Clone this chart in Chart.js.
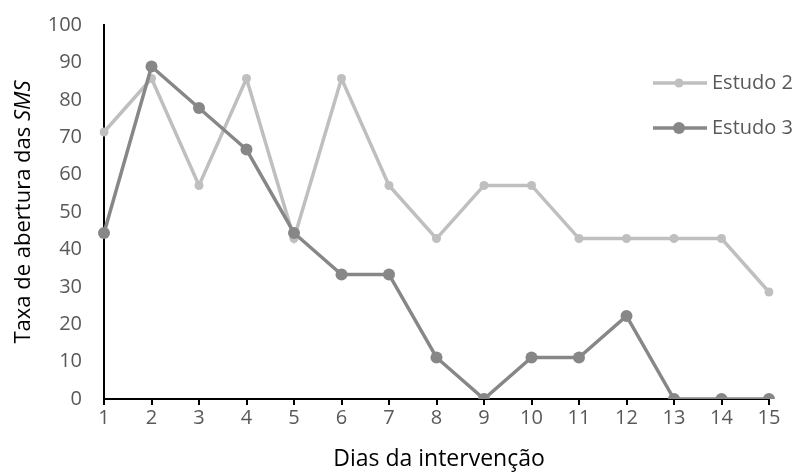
<!DOCTYPE html>
<html>
<head>
<meta charset="utf-8">
<script src="https://cdn.jsdelivr.net/npm/chart.js@4/dist/chart.umd.min.js"></script>
<style>
  html, body { margin: 0; padding: 0; background: #fff; }
  #wrap { width: 797px; height: 475px; }
</style>
</head>
<body>
<div id="wrap"><canvas id="chart"></canvas></div>
<script>
// data
let dias     = ['1','2','3','4','5','6','7','8','9','10','11','12','13','14','15'];
let estudo2  = [71.4, 85.7, 57.1, 85.7, 42.9, 85.7, 57.1, 42.9, 57.1, 57.1, 42.9, 42.9, 42.9, 42.9, 28.6];
let estudo3  = [44.4, 88.9, 77.8, 66.7, 44.4, 33.3, 33.3, 11.1, 0, 11.1, 11.1, 22.2, 0, 0, 0];
let yTicks   = [0, 10, 20, 30, 40, 50, 60, 70, 80, 90, 100];

let colors = {
    light : '#bfbfbf',
    dark  : '#878787',
    text  : '#595959'
};
let fontFamily = '"Open Sans", "Liberation Sans", sans-serif';

// titles and legend drawn by hand (mixed italic, legend inside plot)
let extras = {
    id : 'extras',
    afterDraw : ( chart ) => {
        let ctx  = chart.ctx;
        ctx.save();

        // x title
        ctx.fillStyle = '#000';
        ctx.font = '23px ' + fontFamily;
        ctx.textAlign = 'center';
        ctx.textBaseline = 'middle';
        ctx.fillText( 'Dias da intervenção', 439, 459 );

        // y title, rotated, with italic SMS
        let part1 = 'Taxa de abertura das ';
        let part2 = 'SMS';
        ctx.font = '22px ' + fontFamily;
        let w1 = ctx.measureText( part1 ).width;
        ctx.font = 'italic 22px ' + fontFamily;
        let w2 = ctx.measureText( part2 ).width;
        ctx.translate( 24, 212 );
        ctx.rotate( -Math.PI / 2 );
        ctx.textAlign = 'left';
        let start = -( w1 + w2 ) / 2;
        ctx.font = '22px ' + fontFamily;
        ctx.fillText( part1, start, 0 );
        ctx.font = 'italic 22px ' + fontFamily;
        ctx.fillText( part2, start + w1, 0 );
        ctx.setTransform( 1, 0, 0, 1, 0, 0 );

        // legend
        let items = [
            { label : 'Estudo 2', ds : chart.data.datasets[1], y : 83 },
            { label : 'Estudo 3', ds : chart.data.datasets[0], y : 128 }
        ];
        items.forEach( ( it ) => {
            ctx.strokeStyle = it.ds.borderColor;
            ctx.lineWidth = it.ds.borderWidth;
            ctx.beginPath();
            ctx.moveTo( 653, it.y );
            ctx.lineTo( 707, it.y );
            ctx.stroke();
            ctx.fillStyle = it.ds.pointBackgroundColor;
            ctx.beginPath();
            ctx.arc( 679, it.y, it.ds.pointRadius, 0, Math.PI * 2 );
            ctx.fill();
            ctx.fillStyle = colors.text;
            ctx.font = '20px ' + fontFamily;
            ctx.textAlign = 'left';
            ctx.textBaseline = 'middle';
            ctx.fillText( it.label, 712, it.y );
        } );
        ctx.restore();
    }
};

let ctx = document.getElementById( 'chart' ).getContext( '2d' );
let chart = new Chart( ctx, {
    type : 'line',
    data : {
        labels : dias,
        datasets : [
            {
                label : 'Estudo 3',
                data : estudo3,
                borderColor : colors.dark,
                backgroundColor : colors.dark,
                pointBackgroundColor : colors.dark,
                pointBorderWidth : 0,
                pointRadius : 6,
                borderWidth : 3.5,
                tension : 0,
                order : 0
            },
            {
                label : 'Estudo 2',
                data : estudo2,
                borderColor : colors.light,
                backgroundColor : colors.light,
                pointBackgroundColor : colors.light,
                pointBorderWidth : 0,
                pointRadius : 4.5,
                borderWidth : 3.5,
                tension : 0,
                order : 1
            }
        ]
    },
    options : {
        responsive : true,
        maintainAspectRatio : false,
        animation : false,
        layout : {
            padding : { top : 25, right : 28, left : 0, bottom : 0 }
        },
        plugins : {
            legend : { display : false },
            tooltip : { enabled : false }
        },
        scales : {
            x : {
                type : 'category',
                offset : false,
                grid : {
                    display : true,
                    drawOnChartArea : false,
                    drawTicks : true,
                    tickLength : 6,
                    color : '#000',
                    lineWidth : 2
                },
                border : { display : true, color : '#000', width : 2 },
                ticks : {
                    color : colors.text,
                    font : { family : fontFamily, size : 20 },
                    padding : 1,
                    maxRotation : 0,
                    autoSkip : false
                },
                afterFit : ( scale ) => {
                    scale.height = 76;
                    scale.paddingLeft = 0;
                    scale.paddingRight = 0;
                }
            },
            y : {
                min : 0,
                max : 100,
                afterBuildTicks : ( scale ) => {
                    scale.ticks = yTicks.map( ( v ) => ( { value : v } ) );
                },
                grid : {
                    display : true,
                    drawOnChartArea : false,
                    drawTicks : false
                },
                border : { display : true, color : '#000', width : 2 },
                ticks : {
                    color : colors.text,
                    font : { family : fontFamily, size : 20 },
                    padding : 22
                },
                afterFit : ( scale ) => {
                    scale.width = 104;
                    scale.paddingTop = 0;
                    scale.paddingBottom = 0;
                }
            }
        }
    },
    plugins : [ extras ]
} );
</script>
</body>
</html>
